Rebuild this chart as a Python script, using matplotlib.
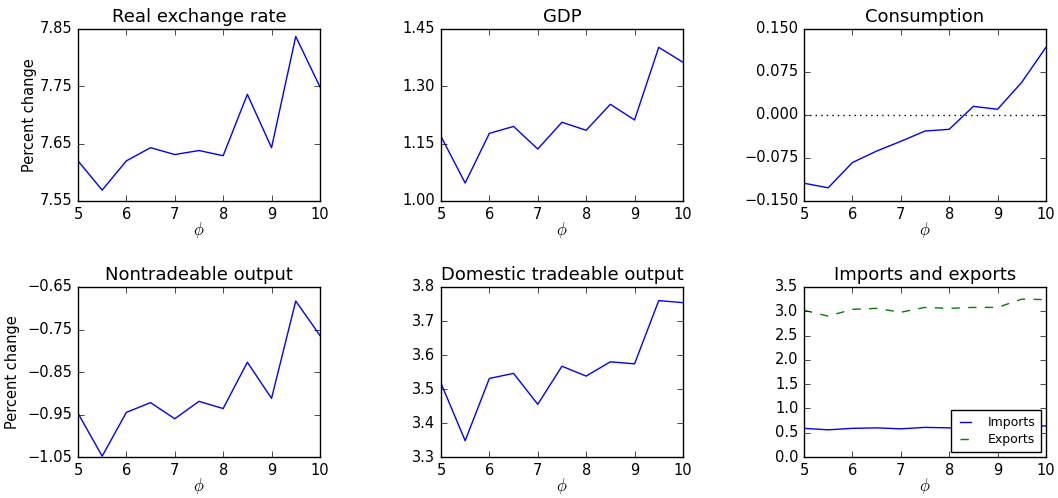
import matplotlib
matplotlib.use("Agg")
import matplotlib.pyplot as plt
import numpy as np

phi = [5.0, 5.5, 6.0, 6.5, 7.0, 7.5, 8.0, 8.5, 9.0, 9.5, 10.0]

real_exchange_rate = [7.620, 7.569, 7.620, 7.643, 7.631, 7.638, 7.629, 7.736, 7.643, 7.837, 7.749]
gdp = [1.169, 1.047, 1.177, 1.195, 1.136, 1.206, 1.185, 1.253, 1.212, 1.402, 1.363]
consumption = [-0.119, -0.127, -0.083, -0.063, -0.046, -0.028, -0.025, 0.015, 0.010, 0.057, 0.118]
nontradeable = [-0.947, -1.048, -0.945, -0.922, -0.960, -0.919, -0.936, -0.827, -0.912, -0.683, -0.764]
dom_tradeable = [3.517, 3.348, 3.531, 3.546, 3.455, 3.567, 3.538, 3.580, 3.574, 3.760, 3.754]
imports = [0.59, 0.56, 0.59, 0.60, 0.58, 0.61, 0.60, 0.60, 0.60, 0.64, 0.64]
exports = [3.02, 2.90, 3.04, 3.06, 2.98, 3.08, 3.06, 3.08, 3.08, 3.25, 3.24]

titles = ["Real exchange rate", "GDP", "Consumption",
          "Nontradeable output", "Domestic tradeable output", "Imports and exports"]
yticks_list = [
    [7.55, 7.65, 7.75, 7.85],
    [1.00, 1.15, 1.30, 1.45],
    [-0.150, -0.075, 0.000, 0.075, 0.150],
    [-1.05, -0.95, -0.85, -0.75, -0.65],
    [3.3, 3.4, 3.5, 3.6, 3.7, 3.8],
    [0.0, 0.5, 1.0, 1.5, 2.0, 2.5, 3.0, 3.5],
]
yfmt = ["%.2f", "%.2f", "%.3f", "%.2f", "%.1f", "%.1f"]

plt.style.use("classic")
fig = plt.figure(figsize=(10.58, 4.98), dpi=100, facecolor="white")

lefts = [0.0737, 0.4168, 0.7599]
w = 0.2287
rows = [(0.5964, 0.3454), (0.0823, 0.3414)]

axes = []
for r, (b, h) in enumerate(rows):
    for c, l in enumerate(lefts):
        ax = fig.add_axes([l, b, w, h])
        axes.append(ax)

series = [real_exchange_rate, gdp, consumption, nontradeable, dom_tradeable]
for i, ax in enumerate(axes):
    if i < 5:
        ax.plot(phi, series[i], "b-")
    else:
        ax.plot(phi, imports, "b-", label="Imports")
        ax.plot(phi, exports, "g--", label="Exports")
        ax.legend(loc="lower right", fontsize=9, handlelength=1.5,
                  handletextpad=1.0, borderpad=0.45, labelspacing=0.35,
                  borderaxespad=0.4)
    if i == 2:
        ax.axhline(0.0, color="k", linestyle=":")
    ax.set_xlim(5, 10)
    ax.set_xticks([5, 6, 7, 8, 9, 10])
    yt = yticks_list[i]
    ax.set_ylim(yt[0], yt[-1])
    ax.set_yticks(yt)
    ax.set_yticklabels([(yfmt[i] % v).replace("-", "\u2212") for v in yt])
    ax.set_title(titles[i], fontsize=13)
    ax.set_xlabel(r"$\phi$", labelpad=-1)
    ax.tick_params(labelsize=10.5)
    if i == 0:
        ax.set_ylabel("Percent change", fontsize=10.5, labelpad=2)
    if i == 3:
        ax.set_ylabel("Percent change", fontsize=10.5, labelpad=5)

fig.savefig("out.png", dpi=100, facecolor="white")
